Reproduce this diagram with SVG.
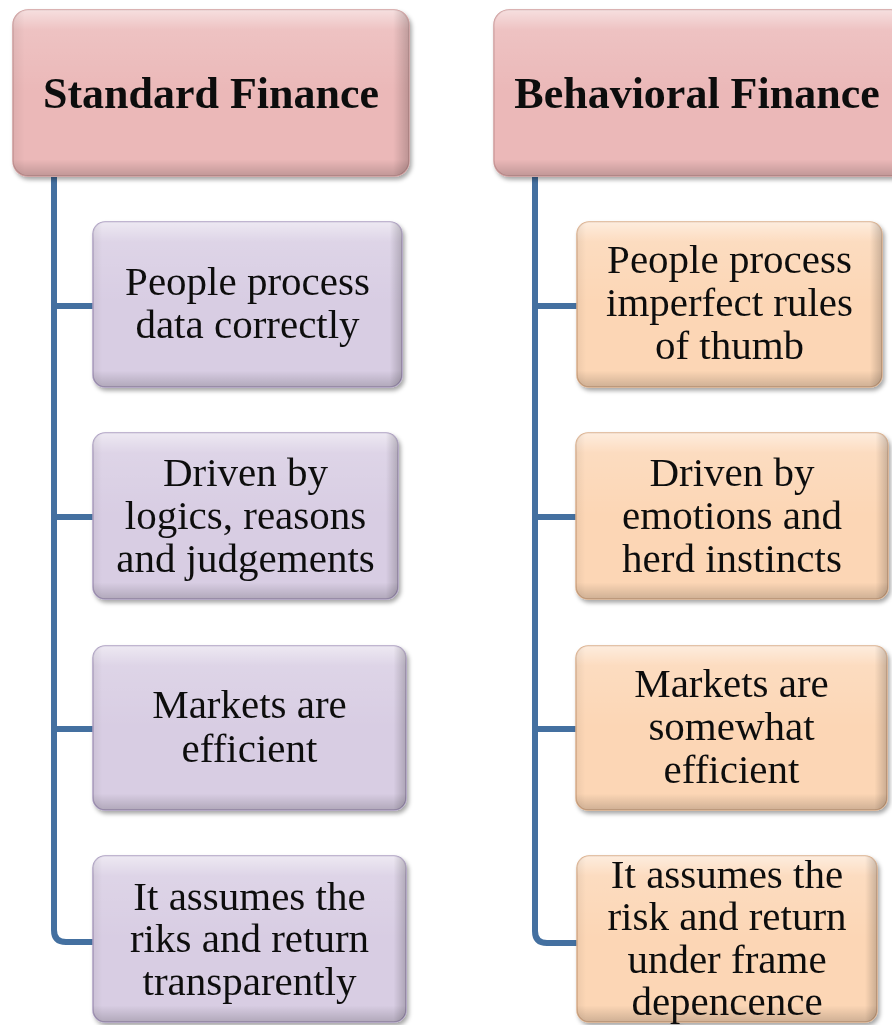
<svg xmlns="http://www.w3.org/2000/svg" width="892" height="1025" viewBox="0 0 892 1025">
<defs>
<filter id="sh" x="-10%" y="-10%" width="125%" height="130%">
<feDropShadow dx="2" dy="3" stdDeviation="2.2" flood-color="#000" flood-opacity="0.35"/>
</filter>
<linearGradient id="hl" x1="0" y1="0" x2="0" y2="1">
<stop offset="0" stop-color="#fff" stop-opacity="0.55"/>
<stop offset="0.12" stop-color="#fff" stop-opacity="0.15"/>
<stop offset="0.5" stop-color="#fff" stop-opacity="0"/>
<stop offset="0.9" stop-color="#000" stop-opacity="0"/>
<stop offset="1" stop-color="#000" stop-opacity="0.18"/>
</linearGradient>
<linearGradient id="side" x1="0" y1="0" x2="1" y2="0">
<stop offset="0" stop-color="#000" stop-opacity="0.06"/>
<stop offset="0.03" stop-color="#000" stop-opacity="0"/>
<stop offset="0.96" stop-color="#000" stop-opacity="0"/>
<stop offset="1" stop-color="#000" stop-opacity="0.2"/>
</linearGradient>
</defs>
<style>
.head{fill:#ebb8b8;stroke:#cf9c9c;stroke-width:1.5}
.lav{fill:#d8cde3;stroke:#ad9fc2;stroke-width:1.5}
.pch{fill:#fcd6b5;stroke:#dcb08c;stroke-width:1.5}
.ov1{fill:url(#hl)}
.ov2{fill:url(#side)}
.ht{font-family:"Liberation Serif","Times New Roman",serif;font-weight:bold;font-size:44px;text-anchor:middle;fill:#111}
.ct{font-family:"Liberation Serif","Times New Roman",serif;font-size:41px;text-anchor:middle;fill:#111}
.conn{fill:none;stroke:#4470a0;stroke-width:6;stroke-linejoin:round}
</style>
<rect width="892" height="1025" fill="#fff"/>
<g id="connectors">
<path class="conn" d="M54,177 V930 Q54,942 66,942 H95"/>
<path class="conn" d="M54,306 H95 M54,517 H95 M54,729 H95"/>
<path class="conn" d="M535,177 V931 Q535,943 547,943 H579"/>
<path class="conn" d="M535,306 H579 M535,517 H579 M535,729 H579"/>
</g>
<g id="standard-finance" filter="url(#sh)">
<rect class="head" x="13" y="10" width="396" height="166" rx="15"/>
<rect class="ov1" x="13" y="10" width="396" height="166" rx="15"/>
<rect class="ov2" x="13" y="10" width="396" height="166" rx="15"/>
<text class="ht" x="211" y="108">Standard Finance</text>
</g>
<g id="behavioral-finance" filter="url(#sh)">
<rect class="head" x="494" y="10" width="412" height="166" rx="15"/>
<rect class="ov1" x="494" y="10" width="412" height="166" rx="15"/>
<text class="ht" x="697" y="108">Behavioral Finance</text>
</g>
<g id="sf-1" filter="url(#sh)">
<rect class="lav" x="93" y="222" width="309" height="165" rx="12"/>
<rect class="ov1" x="93" y="222" width="309" height="165" rx="12"/>
<rect class="ov2" x="93" y="222" width="309" height="165" rx="12"/>
<text class="ct" x="247.5" y="295">People process</text>
<text class="ct" x="247.5" y="338">data correctly</text>
</g>
<g id="sf-2" filter="url(#sh)">
<rect class="lav" x="93" y="433" width="305" height="166" rx="12"/>
<rect class="ov1" x="93" y="433" width="305" height="166" rx="12"/>
<rect class="ov2" x="93" y="433" width="305" height="166" rx="12"/>
<text class="ct" x="245.5" y="486">Driven by</text>
<text class="ct" x="245.5" y="529">logics, reasons</text>
<text class="ct" x="245.5" y="572">and judgements</text>
</g>
<g id="sf-3" filter="url(#sh)">
<rect class="lav" x="93" y="646" width="313" height="164" rx="12"/>
<rect class="ov1" x="93" y="646" width="313" height="164" rx="12"/>
<rect class="ov2" x="93" y="646" width="313" height="164" rx="12"/>
<text class="ct" x="249.5" y="718">Markets are</text>
<text class="ct" x="249.5" y="762">efficient</text>
</g>
<g id="sf-4" filter="url(#sh)">
<rect class="lav" x="93" y="856" width="313" height="166" rx="12"/>
<rect class="ov1" x="93" y="856" width="313" height="166" rx="12"/>
<rect class="ov2" x="93" y="856" width="313" height="166" rx="12"/>
<text class="ct" x="249.5" y="910">It assumes the</text>
<text class="ct" x="249.5" y="952">riks and return</text>
<text class="ct" x="249.5" y="995">transparently</text>
</g>
<g id="bf-1" filter="url(#sh)">
<rect class="pch" x="577" y="222" width="305" height="165" rx="12"/>
<rect class="ov1" x="577" y="222" width="305" height="165" rx="12"/>
<rect class="ov2" x="577" y="222" width="305" height="165" rx="12"/>
<text class="ct" x="729.5" y="273">People process</text>
<text class="ct" x="729.5" y="316">imperfect rules</text>
<text class="ct" x="729.5" y="359">of thumb</text>
</g>
<g id="bf-2" filter="url(#sh)">
<rect class="pch" x="576" y="433" width="312" height="166" rx="12"/>
<rect class="ov1" x="576" y="433" width="312" height="166" rx="12"/>
<rect class="ov2" x="576" y="433" width="312" height="166" rx="12"/>
<text class="ct" x="732" y="486">Driven by</text>
<text class="ct" x="732" y="529">emotions and</text>
<text class="ct" x="732" y="572">herd instincts</text>
</g>
<g id="bf-3" filter="url(#sh)">
<rect class="pch" x="576" y="646" width="311" height="164" rx="12"/>
<rect class="ov1" x="576" y="646" width="311" height="164" rx="12"/>
<rect class="ov2" x="576" y="646" width="311" height="164" rx="12"/>
<text class="ct" x="731.5" y="697">Markets are</text>
<text class="ct" x="731.5" y="740">somewhat</text>
<text class="ct" x="731.5" y="783">efficient</text>
</g>
<g id="bf-4" filter="url(#sh)">
<rect class="pch" x="577" y="856" width="300" height="166" rx="12"/>
<rect class="ov1" x="577" y="856" width="300" height="166" rx="12"/>
<rect class="ov2" x="577" y="856" width="300" height="166" rx="12"/>
<text class="ct" x="727" y="888">It assumes the</text>
<text class="ct" x="727" y="930">risk and return</text>
<text class="ct" x="727" y="973">under frame</text>
<text class="ct" x="727" y="1015">depencence</text>
</g>
</svg>
